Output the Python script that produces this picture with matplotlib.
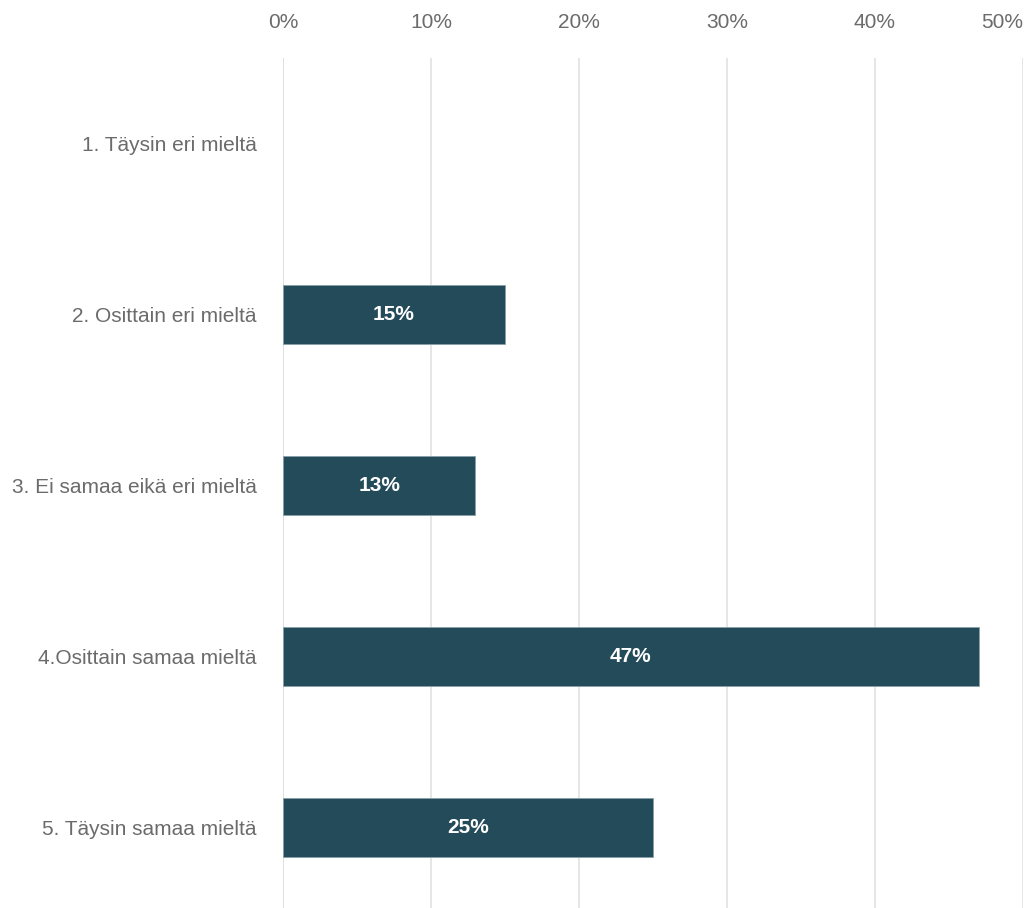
import matplotlib
matplotlib.use("Agg")
import matplotlib.pyplot as plt
from matplotlib.ticker import FuncFormatter

plt.rcParams['font.family'] = ['Liberation Sans', 'DejaVu Sans']

categories = [
    "1. Täysin eri mieltä",
    "2. Osittain eri mieltä",
    "3. Ei samaa eikä eri mieltä",
    "4.Osittain samaa mieltä",
    "5. Täysin samaa mieltä",
]
values = [0, 15, 13, 47, 25]
xticks = [0, 10, 20, 30, 40, 50]

bar_color = "#234b59"
text_color = "#6b6b6b"

fig = plt.figure(figsize=(10.24, 9.08), dpi=100)
ax = fig.add_axes([283 / 1024, -5 / 908, (1023 - 283) / 1024, 855 / 908])

ypos = list(range(len(categories)))
bars = ax.barh(ypos, values, height=0.35, color=bar_color,
               edgecolor="#8aa0a8", linewidth=0.6, zorder=3)

for b, v in zip(bars, values):
    if v > 0:
        ax.text(b.get_width() / 2, b.get_y() + b.get_height() / 2, f"{v}%",
                ha="center", va="center", color="white", fontsize=15,
                fontweight="bold", zorder=4)
    else:
        b.set_linewidth(0)

ax.set_xlim(0, 50)
ax.set_ylim(len(categories) - 0.5, -0.5)
ax.set_yticks(ypos)
ax.set_yticklabels(categories)
ax.set_xticks(xticks)
ax.xaxis.set_major_formatter(FuncFormatter(lambda x, _: f"{int(x)}%"))
ax.xaxis.tick_top()

ax.tick_params(axis="both", length=0, labelsize=15, colors=text_color)
ax.tick_params(axis="x", pad=18.5)
ax.tick_params(axis="y", pad=19)

# keep the last percentage label inside the figure
ax.get_xticklabels()[-1].set_horizontalalignment("right")

ax.grid(axis="x", color="#e2e2e2", linewidth=1.2, zorder=0)
ax.axvline(0, color="#c9d2ea", linewidth=1.4, zorder=1)
for s in ax.spines.values():
    s.set_visible(False)

fig.savefig("out.png", dpi=100, facecolor="white")
